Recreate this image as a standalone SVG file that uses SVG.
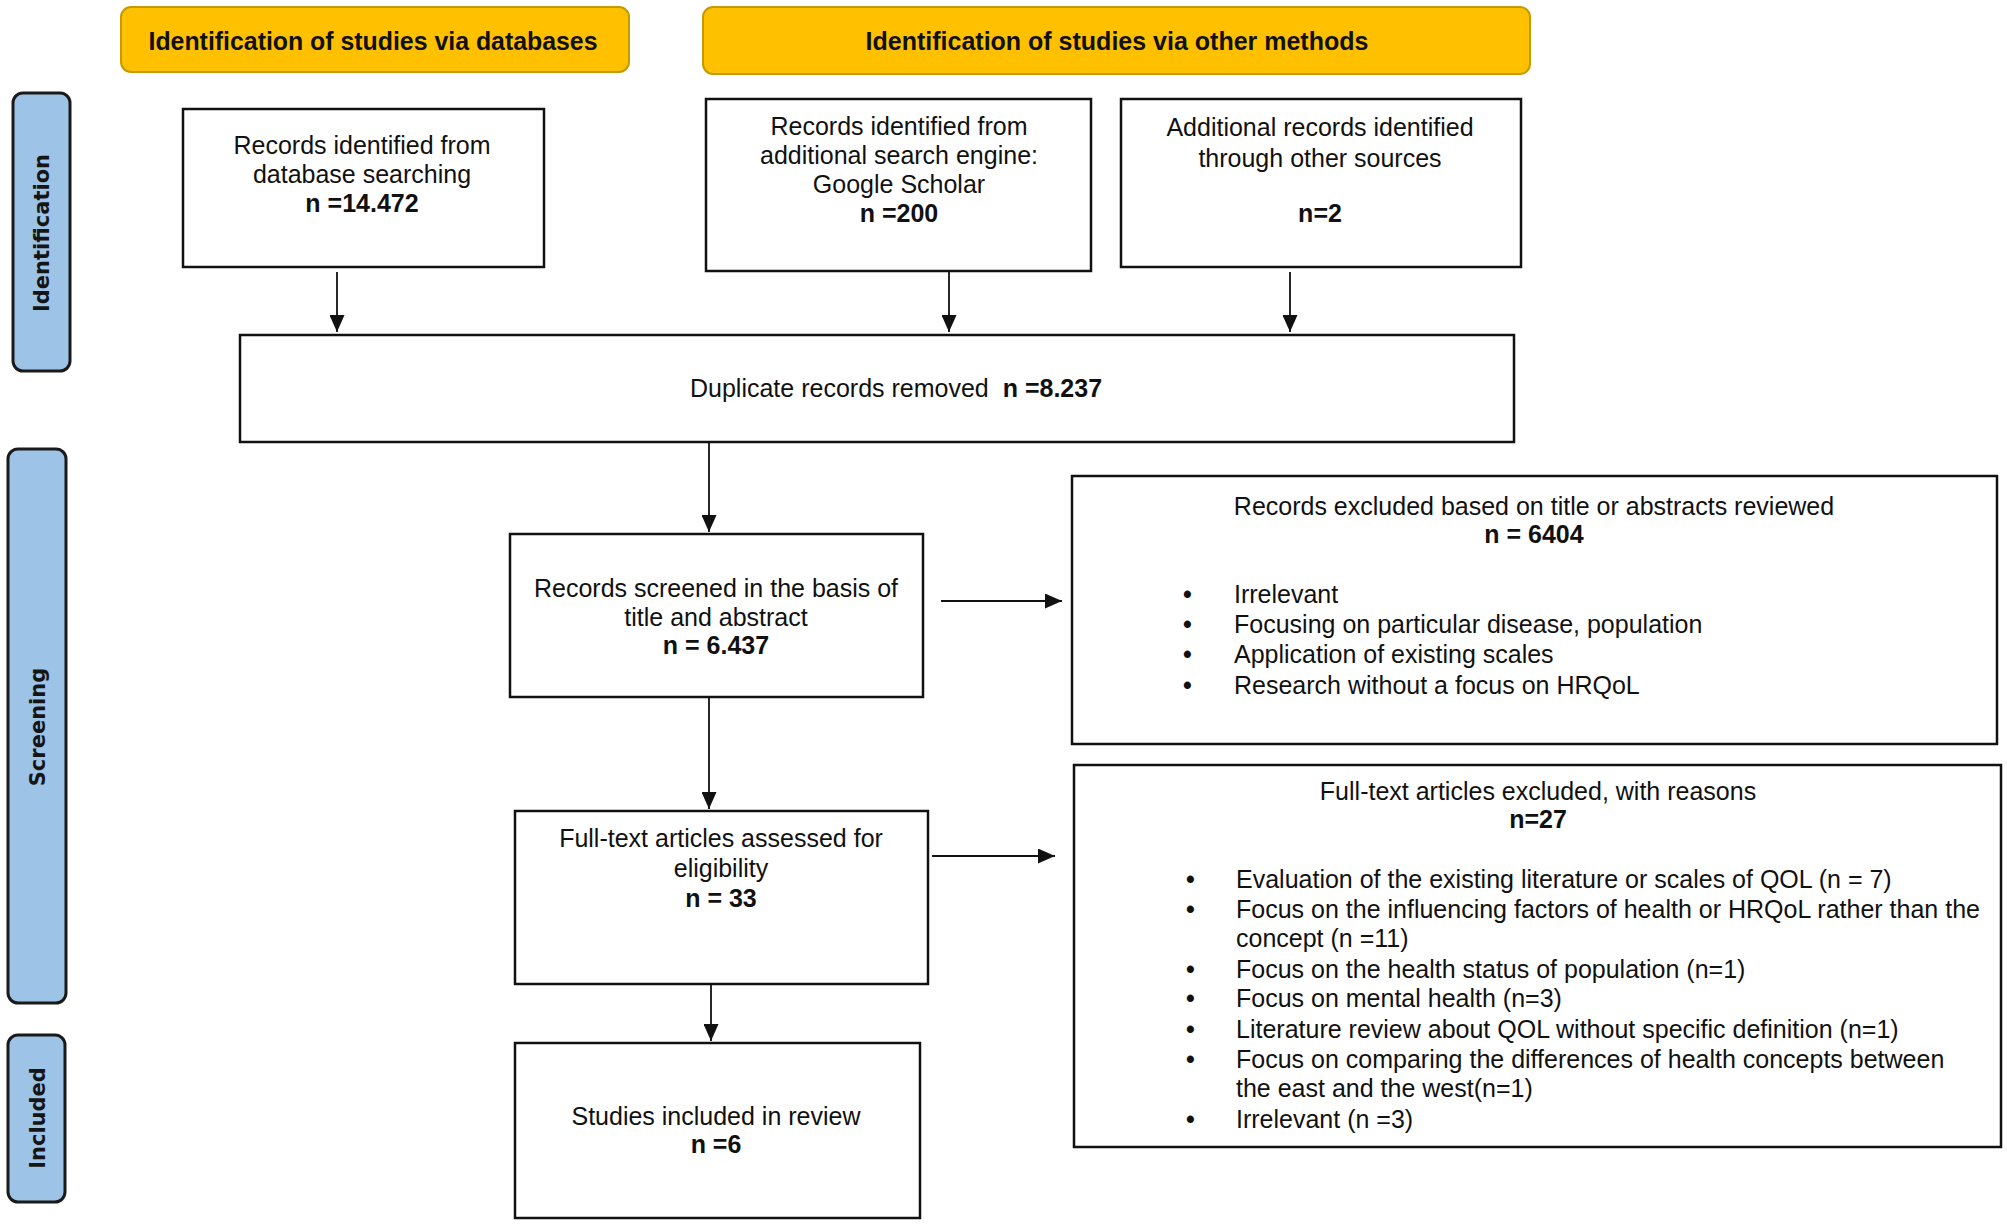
<svg xmlns="http://www.w3.org/2000/svg" width="2007" height="1225" viewBox="0 0 2007 1225">
<style>
text{font-family:"Liberation Sans",Arial,sans-serif;font-size:25px;fill:#111}
.c{text-anchor:middle}
.b{font-weight:bold}
.sl{font-family:"DejaVu Sans",Verdana,sans-serif;font-size:21px;font-weight:bold;text-anchor:middle;fill:#151515}
.bu{font-weight:bold}
.hdr{fill:#FFC000;stroke:#C49A00;stroke-width:2}
.side{fill:#9DC3E6;stroke:#1a1a1a;stroke-width:3}
.box{fill:#fff;stroke:#111;stroke-width:2.5}
.ln{stroke:#111;stroke-width:1.8;fill:none;marker-end:url(#ah)}
</style>
<defs>
<marker id="ah" markerUnits="userSpaceOnUse" markerWidth="17" markerHeight="15" refX="17" refY="7.5" orient="auto">
<path d="M0,0 L17,7.5 L0,15 z" fill="#111"/>
</marker>
</defs>
<rect width="2007" height="1225" fill="#fff"/>
<g id="hdr-db"><rect class="hdr" x="121" y="7" width="508" height="65" rx="10"/><text class="c b" x="373" y="50" textLength="449" lengthAdjust="spacingAndGlyphs">Identification of studies via databases</text></g>
<g id="hdr-other"><rect class="hdr" x="703" y="7" width="827" height="67" rx="10"/><text class="c b" x="1117" y="50">Identification of studies via other methods</text></g>
<g id="side-ident"><rect class="side" x="13" y="93" width="57" height="278" rx="10"/><text class="sl" transform="translate(49,233) rotate(-90)">Identification</text></g>
<g id="side-screen"><rect class="side" x="8" y="449" width="58" height="554" rx="10"/><text class="sl" transform="translate(45,727) rotate(-90)">Screening</text></g>
<g id="side-incl"><rect class="side" x="8" y="1035" width="57" height="167" rx="10"/><text class="sl" transform="translate(45,1118) rotate(-90)">Included</text></g>
<g id="box-db"><rect class="box" x="183" y="109" width="361" height="158"/><text class="c" x="362" y="154">Records identified from</text><text class="c" x="362" y="183">database searching</text><text class="c b" x="362" y="212">n =14.472</text></g>
<g id="box-scholar"><rect class="box" x="706" y="99" width="385" height="172"/><text class="c" x="899" y="135">Records identified from</text><text class="c" x="899" y="164">additional search engine:</text><text class="c" x="899" y="193">Google Scholar</text><text class="c b" x="899" y="222">n =200</text></g>
<g id="box-other"><rect class="box" x="1121" y="99" width="400" height="168"/><text class="c" x="1320" y="136">Additional records identified</text><text class="c" x="1320" y="167">through other sources</text><text class="c b" x="1320" y="222">n=2</text></g>
<g id="box-dup"><rect class="box" x="240" y="335" width="1274" height="107"/><text x="690" y="397">Duplicate records removed <tspan class="b" dx="7">n =8.237</tspan></text></g>
<g id="box-screened"><rect class="box" x="510" y="534" width="413" height="163"/><text class="c" x="716" y="597">Records screened in the basis of</text><text class="c" x="716" y="626">title and abstract</text><text class="c b" x="716" y="654">n = 6.437</text></g>
<g id="box-excl1"><rect class="box" x="1072" y="476" width="925" height="268"/><text class="c" x="1534" y="515">Records excluded based on title or abstracts reviewed</text><text class="c b" x="1534" y="543">n = 6404</text>
<text class="bu" x="1183" y="603">•</text><text x="1234" y="603">Irrelevant</text>
<text class="bu" x="1183" y="633">•</text><text x="1234" y="633">Focusing on particular disease, population</text>
<text class="bu" x="1183" y="663">•</text><text x="1234" y="663">Application of existing scales</text>
<text class="bu" x="1183" y="694">•</text><text x="1234" y="694">Research without a focus on HRQoL</text></g>
<g id="box-fulltext"><rect class="box" x="515" y="811" width="413" height="173"/><text class="c" x="721" y="847">Full-text articles assessed for</text><text class="c" x="721" y="877">eligibility</text><text class="c b" x="721" y="907">n = 33</text></g>
<g id="box-excl2"><rect class="box" x="1074" y="765" width="927" height="382"/><text class="c" x="1538" y="800">Full-text articles excluded, with reasons</text><text class="c b" x="1538" y="828">n=27</text>
<text class="bu" x="1186" y="888">•</text><text x="1236" y="888">Evaluation of the existing literature or scales of QOL (n = 7)</text>
<text class="bu" x="1186" y="918">•</text><text x="1236" y="918">Focus on the influencing factors of health or HRQoL rather than the</text>
<text x="1236" y="947">concept (n =11)</text>
<text class="bu" x="1186" y="978">•</text><text x="1236" y="978">Focus on the health status of population (n=1)</text>
<text class="bu" x="1186" y="1007">•</text><text x="1236" y="1007">Focus on mental health (n=3)</text>
<text class="bu" x="1186" y="1038">•</text><text x="1236" y="1038">Literature review about QOL without specific definition (n=1)</text>
<text class="bu" x="1186" y="1068">•</text><text x="1236" y="1068">Focus on comparing the differences of health concepts between</text>
<text x="1236" y="1097">the east and the west(n=1)</text>
<text class="bu" x="1186" y="1128">•</text><text x="1236" y="1128">Irrelevant (n =3)</text></g>
<g id="box-included"><rect class="box" x="515" y="1043" width="405" height="175"/><text class="c" x="716" y="1125">Studies included in review</text><text class="c b" x="716" y="1153">n =6</text></g>
<g id="connectors">
<path class="ln" d="M337,272 V332"/>
<path class="ln" d="M949,272 V332"/>
<path class="ln" d="M1290,272 V332"/>
<path class="ln" d="M709,442 V532"/>
<path class="ln" d="M941,601 H1062"/>
<path class="ln" d="M709,697 V809"/>
<path class="ln" d="M932,856 H1055"/>
<path class="ln" d="M711,984 V1041"/>
</g>
</svg>
